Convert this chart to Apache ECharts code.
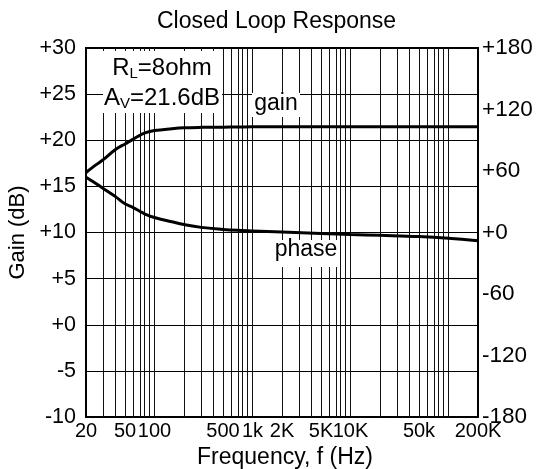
<!DOCTYPE html>
<html><head><meta charset="utf-8">
<script src="https://cdn.jsdelivr.net/npm/echarts@6/dist/echarts.min.js"></script>
<style>html,body{margin:0;padding:0;background:#fff}#c{width:540px;height:469px}</style>
</head><body><div id="c"></div>
<script>
// ---- data ----
const freqs    = [20, 25, 30, 40, 50, 60, 70, 80, 100, 150, 200, 300, 500, 700, 1000, 2000, 5000, 10000, 20000, 50000, 100000, 200000];
const gainDb   = [16.5, 17.3, 17.9, 19.0, 19.6, 20.1, 20.5, 20.8, 21.05, 21.25, 21.35, 21.4, 21.42, 21.43, 21.45, 21.45, 21.45, 21.45, 21.45, 21.45, 21.46, 21.47];
const phaseDeg = [54, 48, 43, 35, 28, 24.6, 21, 18, 14.6, 10.5, 7.8, 5, 3, 2.1, 1.5, 0.4, -1, -2, -2.8, -4, -5.6, -8];
const xTickFreqs  = [20, 50, 100, 500, 1000, 2000, 5000, 10000, 50000, 200000];
const xTickLabels = ['20', '50', '100', '500', '1k', '2K', '5K', '10K', '50k', '200K'];
const gridFreqs = [30, 40, 50, 60, 70, 80, 90, 100,
  200, 300, 400, 500, 600, 700, 800, 900, 1000,
  2000, 3000, 4000, 5000, 6000, 7000, 8000, 9000, 10000,
  20000, 30000, 40000, 50000, 60000, 70000, 80000, 90000, 100000];
const gainRange  = [-10, 30, 5];
const phaseRange = [-180, 180, 60];

const FONT = 'Liberation Sans, Arial, sans-serif';
const lg = Math.log10;
const signFmt = v => (v > 0 ? '+' + v : (v === 0 ? '+0' : String(v)));

const chart = echarts.init(document.getElementById('c'), null, {renderer: 'canvas'});
chart.setOption({
  animation: false,
  backgroundColor: '#fff',
  title: {
    text: 'Closed Loop Response', left: 152, top: 5, padding: 5,
    textStyle: {fontFamily: FONT, fontSize: 23, fontWeight: 'normal', color: '#000'}
  },
  grid: {left: 86, right: 62, top: 48, bottom: 52, containLabel: false, outerBoundsMode: 'none',
    show: true, borderColor: '#000', borderWidth: 2, backgroundColor: 'transparent'},
  xAxis: {
    type: 'value', min: lg(20), max: lg(200000),
    name: 'Frequency, f (Hz)', nameLocation: 'middle', nameGap: 24,
    nameTextStyle: {fontFamily: FONT, fontSize: 23, color: '#000', padding: [0, 0, 0, 6]},
    axisLine: {show: true, onZero: false, lineStyle: {color: '#000', width: 2}},
    axisTick: {show: false},
    splitLine: {show: false},
    axisLabel: {
      customValues: xTickFreqs.map(lg), margin: 4, hideOverlap: false,
      fontFamily: FONT, fontSize: 20, color: '#000',
      formatter: v => { const i = xTickFreqs.findIndex(f => Math.abs(lg(f) - v) < 1e-6); return i >= 0 ? xTickLabels[i] : ''; }
    }
  },
  yAxis: [{
    type: 'value', min: gainRange[0], max: gainRange[1], interval: gainRange[2],
    name: 'Gain (dB)', nameLocation: 'middle', nameGap: 46, nameRotate: 90,
    nameTextStyle: {fontFamily: FONT, fontSize: 22, color: '#000'},
    axisLine: {show: true, onZero: false, lineStyle: {color: '#000', width: 2}},
    axisTick: {show: false},
    splitLine: {show: true, lineStyle: {color: '#000', width: 1}},
    axisLabel: {margin: 10, fontFamily: FONT, fontSize: 21.5, color: '#000', formatter: signFmt}
  }, {
    type: 'value', position: 'right', min: phaseRange[0], max: phaseRange[1], interval: phaseRange[2],
    axisLine: {show: true, onZero: false, lineStyle: {color: '#000', width: 2}},
    axisTick: {show: false},
    splitLine: {show: false},
    axisLabel: {margin: 4, fontFamily: FONT, fontSize: 22.5, color: '#000', formatter: signFmt}
  }],
  series: [{
    type: 'line', name: 'grid', data: [], silent: true, z: 1,
    markLine: {
      silent: true, symbol: ['none', 'none'], label: {show: false},
      lineStyle: {color: '#111', width: 1, type: 'solid'},
      emphasis: {disabled: true},
      data: gridFreqs.map(f => ({xAxis: lg(f)}))
    }
  }, {
    type: 'line', name: 'gain', yAxisIndex: 0, z: 5, smooth: 0.4, showSymbol: false, symbol: 'none',
    lineStyle: {color: '#000', width: 3},
    data: freqs.map((f, i) => [lg(f), gainDb[i]])
  }, {
    type: 'line', name: 'phase', yAxisIndex: 1, z: 5, smooth: 0.4, showSymbol: false, symbol: 'none',
    lineStyle: {color: '#000', width: 3},
    data: freqs.map((f, i) => [lg(f), phaseDeg[i]])
  }],
  graphic: [
    {type: 'rect', z: 50, shape: {x: 103, y: 51, width: 119, height: 62}, style: {fill: '#fff'}},
    {type: 'text', z: 51, x: 162, y: 68, style: {
      text: '{a|R}{s|L}{a|=8ohm}', align: 'center', verticalAlign: 'middle', fill: '#000',
      rich: {a: {fontFamily: FONT, fontSize: 24, lineHeight: 26, fill: '#000'},
             s: {fontFamily: FONT, fontSize: 15, lineHeight: 15, verticalAlign: 'bottom', fill: '#000'}}}},
    {type: 'text', z: 51, x: 162, y: 98, style: {
      text: '{a|A}{s|V}{a|=21.6dB}', align: 'center', verticalAlign: 'middle', fill: '#000',
      rich: {a: {fontFamily: FONT, fontSize: 24, lineHeight: 26, fill: '#000'},
             s: {fontFamily: FONT, fontSize: 15, lineHeight: 15, verticalAlign: 'bottom', fill: '#000'}}}},
    {type: 'rect', z: 50, shape: {x: 252, y: 93, width: 48, height: 24}, style: {fill: '#fff'}},
    {type: 'text', z: 51, x: 276, y: 104, style: {text: 'gain', align: 'center', verticalAlign: 'middle',
      fontFamily: FONT, fontSize: 23, fill: '#000'}},
    {type: 'rect', z: 50, shape: {x: 273, y: 240, width: 66, height: 27}, style: {fill: '#fff'}},
    {type: 'text', z: 51, x: 306, y: 250, style: {text: 'phase', align: 'center', verticalAlign: 'middle',
      fontFamily: FONT, fontSize: 23, fill: '#000'}}
  ]
});
</script>
</body></html>
